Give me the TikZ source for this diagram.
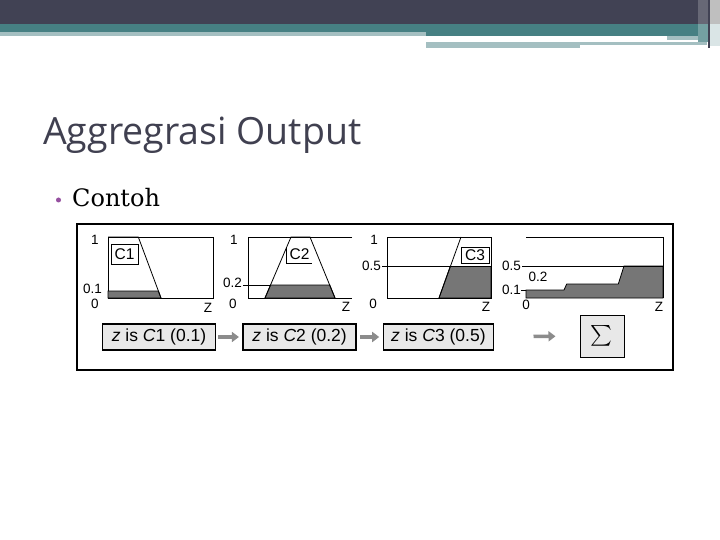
\documentclass[tikz,border=0pt]{standalone}
\usepackage{amsmath}
\usepackage{fontspec}
\usepackage{xcolor}
\usetikzlibrary{arrows.meta,positioning}
\newfontfamily\titlefont{Open Sans}
\newfontfamily\bodyfont{DejaVu Serif}
\newfontfamily\plotfont{Liberation Sans}
\definecolor{hdrdark}{RGB}{65,66,84}
\definecolor{hdrteal}{RGB}{70,128,131}
\definecolor{hdrlight}{RGB}{164,191,193}
\definecolor{titlegray}{RGB}{64,64,80}
\definecolor{bulletpurple}{RGB}{150,80,160}
\definecolor{mfgray}{RGB}{118,118,118}
\definecolor{boxgray}{RGB}{232,232,232}
\definecolor{arrowgray}{RGB}{140,140,140}

\begin{document}
\begin{tikzpicture}[
    x=1pt, y=-1pt,
    every node/.style={inner sep=0pt},
    plotline/.style={line width=0.8pt},
    mfshade/.style={fill=mfgray, draw=black, line width=0.8pt},
    axlbl/.style={font=\plotfont\fontsize{13.5}{13.5}\selectfont},
    setlbl/.style={font=\plotfont\fontsize{15.5}{15.5}\selectfont},
    rulebox/.style={draw, line width=1.6pt, fill=boxgray, minimum height=26pt,
        minimum width=113pt, font=\plotfont\fontsize{17.5}{17.5}\selectfont},
    fatarrow/.style={arrowgray, line width=3.5pt, -{Triangle[length=7pt,width=10pt]}}
]
\useasboundingbox (0,0) rectangle (720,540);
\fill[white] (0,0) rectangle (720,540);

% header bars
\fill[hdrdark] (0,0) rectangle (720,24);
\fill[hdrteal] (0,24) rectangle (720,32);
\fill[hdrteal] (426,32) rectangle (707,36);
\fill[hdrlight] (0,32) rectangle (426,36);
\fill[hdrlight] (667,36) rectangle (707,40);
\fill[hdrlight] (426,42) rectangle (707,45.5);
\fill[hdrlight] (426,45.5) rectangle (580,48.5);
\fill[hdrdark!80!white] (698,0) rectangle (708,24);
\fill[hdrteal!75!white] (698,24) rectangle (708,42);
\fill[hdrdark] (708,0) rectangle (710,48);
\fill[black!25] (710,0) rectangle (720,24);
\fill[hdrteal!20] (710,24) rectangle (720,46);

% title and bullet
\node[anchor=base west, text=titlegray, font=\titlefont\fontsize{37.5}{37.5}\selectfont]
    (title) at (43,145) {Aggregrasi Output};
\node[circle, fill=bulletpurple, minimum size=5pt] (bullet) at (58.5,200) {};
\node[anchor=base west, font=\bodyfont\fontsize{24}{24}\selectfont]
    (contoh) at (72,207) {Contoh};

% frame
\draw[line width=1.6pt] (77,224) rectangle (673,370);

% C1
\draw[plotline] (108,237) rectangle (213,298);
\draw[mfshade] (108,291) -- (158.4,291) -- (161,298) -- (108,298) -- cycle;
\draw[plotline] (108,237) -- (138.3,237) -- (161,298);
\node[draw, fill=white, setlbl, minimum width=27pt, minimum height=20pt] (cone) at (124.5,254) {C1};
\node[axlbl] (pone) at (95,240) {1};
\node[axlbl, anchor=east] (plow) at (102,289) {0.1};
\node[axlbl] (pzero) at (95,304) {0};
\node[axlbl] (pz) at (208,308) {Z};

% C2
\draw[plotline] (352,237) -- (248,237) -- (248,298) -- (352,298);
\draw[mfshade] (265,298) -- (270.5,285) -- (329.7,285) -- (335,298) -- cycle;
\draw[plotline] (265,298) -- (291,237) -- (310,237) -- (335,298);
\draw[plotline] (243,285) -- (270.5,285);
\draw[plotline] (286,247) -- (286,263) -- (312,263);
\node[setlbl] (ctwo) at (299.5,254.5) {C2};
\node[axlbl] (qone) at (234,240) {1};
\node[axlbl, anchor=east] (qlow) at (242,283) {0.2};
\node[axlbl] (qzero) at (233,304) {0};
\node[axlbl] (qz) at (346,307) {Z};

% C3
\draw[mfshade] (439,298) -- (450.2,266.5) -- (491,266.5) -- (491,298) -- cycle;
\draw[plotline] (387,237) rectangle (491,298);
\draw[plotline] (439,298) -- (461,237);
\draw[plotline] (382,266.5) -- (491,266.5);
\node[draw, fill=white, setlbl, minimum width=28pt, minimum height=15.5pt] (cthree) at (475,255) {C3};
\node[axlbl] (rone) at (374,240) {1};
\node[axlbl, anchor=east] (rlow) at (381,266) {0.5};
\node[axlbl] (rzero) at (373,304) {0};
\node[axlbl] (rz) at (486,307) {Z};

% aggregated output
\draw[mfshade] (526,298) -- (526,290) -- (564,290) -- (566.7,284) -- (618.3,284)
    -- (624,266) -- (663,266) -- (663,298) -- cycle;
\draw[plotline] (526,237) -- (663,237) -- (663,298);
\draw[plotline] (522,266) -- (663,266);
\draw[plotline] (521,290) -- (526,290);
\node[axlbl, anchor=east] (shalf) at (521,266) {0.5};
\node[axlbl] (stwo) at (538,277) {0.2};
\node[axlbl, anchor=east] (slow) at (521,290) {0.1};
\node[axlbl] (szero) at (526,305) {0};
\node[axlbl] (sz) at (659,307) {Z};

% rule outputs
\node[rulebox] (ruleone) at (159,337) {\textit{z} is \textit{C}1 (0.1)};
\node[rulebox, right=26pt of ruleone] (ruletwo) {\textit{z} is \textit{C}2 (0.2)};
\node[rulebox, minimum width=110pt, right=25.7pt of ruletwo] (rulethree) {\textit{z} is \textit{C}3 (0.5)};
\node[draw, line width=0.8pt, fill=boxgray, minimum width=44pt, minimum height=42pt,
    right=85.3pt of rulethree, yshift=1pt] (aggsum) {\fontsize{21}{21}\selectfont$\textstyle\sum$};

\draw[fatarrow, shorten <=2pt, shorten >=3.4pt] (ruleone) -- (ruletwo);
\draw[fatarrow, shorten <=3pt, shorten >=3.4pt] (ruletwo) -- (rulethree);
\draw[fatarrow, shorten <=39.3pt, shorten >=24pt] (rulethree) -- (aggsum);
\end{tikzpicture}
\end{document}
